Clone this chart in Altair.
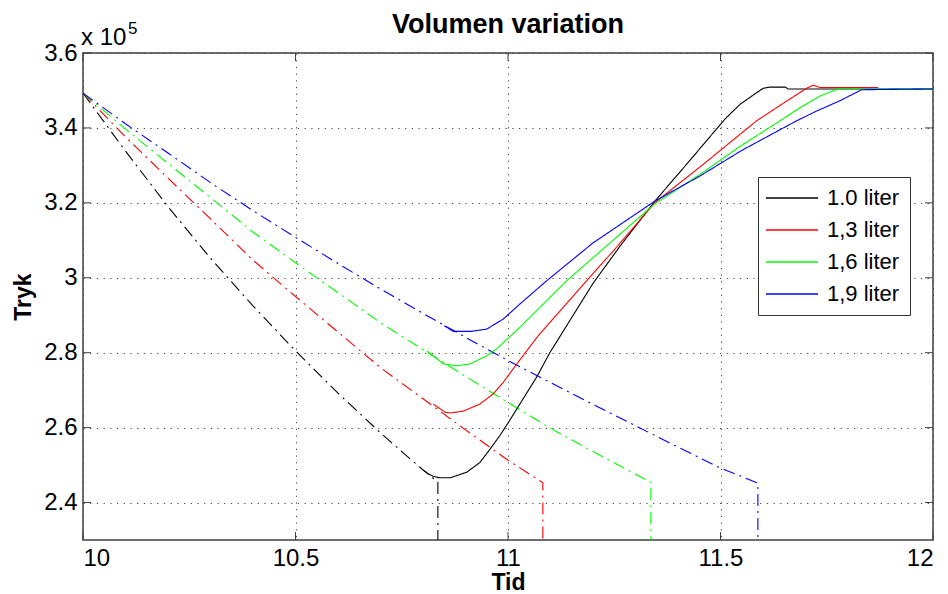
import altair as alt
import pandas as pd

# ---------------- data (pressure in units of 10^5) ----------------
series_names = ["1.0 liter", "1,3 liter", "1,6 liter", "1,9 liter"]
series_colors = ["#000000", "#ff0000", "#00ff00", "#0000ff"]

# dash-dot curves (pressure fall, then vertical drop)
dd_t_10 = [10.0, 10.1, 10.2, 10.3, 10.4, 10.5, 10.6, 10.7, 10.754, 10.8, 10.835, 10.835]
dd_p_10 = [3.493, 3.338, 3.190, 3.052, 2.925, 2.805, 2.692, 2.586, 2.532, 2.487, 2.455, 2.25]

dd_t_13 = [10.0, 10.1, 10.2, 10.3, 10.4, 10.5, 10.6, 10.7, 10.8, 10.9, 11.0, 11.082, 11.082]
dd_p_13 = [3.493, 3.376, 3.266, 3.157, 3.047, 2.950, 2.855, 2.760, 2.677, 2.594, 2.513, 2.453, 2.25]

dd_t_16 = [10.0, 10.1, 10.2, 10.3, 10.4, 10.5, 10.6, 10.7, 10.8, 10.9, 11.0, 11.1, 11.2, 11.336, 11.336]
dd_p_16 = [3.493, 3.397, 3.305, 3.214, 3.122, 3.040, 2.960, 2.880, 2.808, 2.737, 2.667, 2.598, 2.536, 2.454, 2.25]

dd_t_19 = [10.0, 10.1, 10.2, 10.3, 10.4, 10.5, 10.6, 10.7, 10.8, 10.9, 11.0, 11.1, 11.2, 11.3, 11.4, 11.5, 11.588, 11.588]
dd_p_19 = [3.493, 3.411, 3.333, 3.254, 3.179, 3.108, 3.038, 2.970, 2.905, 2.841, 2.779, 2.720, 2.662, 2.605, 2.548, 2.492, 2.452, 2.25]

# solid curves (pressure recovery)
s_t_10 = [10.800, 10.812, 10.824, 10.840, 10.864, 10.903, 10.934, 10.958, 10.981, 11.001, 11.067, 11.099, 11.2, 11.264,
          11.346, 11.43, 11.51, 11.546, 11.585, 11.601, 11.616, 11.652, 11.659, 12.0]
s_p_10 = [2.487, 2.477, 2.470, 2.466, 2.466, 2.481, 2.507, 2.543, 2.579, 2.614, 2.734, 2.801, 2.985, 3.085,
          3.205, 3.316, 3.423, 3.463, 3.494, 3.506, 3.509, 3.509, 3.504, 3.504]

s_t_13 = [10.824, 10.852, 10.864, 10.895, 10.934, 10.965, 10.989, 11.009, 11.044, 11.071, 11.185, 11.248,
          11.346, 11.452, 11.585, 11.656, 11.703, 11.718, 11.734, 11.871]
s_p_13 = [2.663, 2.641, 2.639, 2.644, 2.663, 2.690, 2.721, 2.752, 2.805, 2.845, 2.992, 3.072,
          3.201, 3.296, 3.419, 3.472, 3.506, 3.514, 3.508, 3.508]

s_t_16 = [10.809, 10.848, 10.879, 10.911, 10.95, 10.973, 11.02, 11.138, 11.232, 11.346, 11.452, 11.545,
          11.64, 11.687, 11.734, 11.776, 12.0]
s_p_16 = [2.805, 2.770, 2.765, 2.770, 2.792, 2.810, 2.859, 2.992, 3.085, 3.198, 3.276, 3.350,
          3.419, 3.454, 3.485, 3.504, 3.504]

s_t_19 = [10.850, 10.871, 10.914, 10.95, 10.989, 11.028, 11.091, 11.2, 11.346, 11.452, 11.55, 11.679,
          11.726, 11.78, 11.832, 12.0]
s_p_19 = [2.872, 2.857, 2.857, 2.863, 2.890, 2.930, 2.992, 3.093, 3.205, 3.272, 3.340, 3.419,
          3.445, 3.472, 3.502, 3.504]

x_ticks = [10, 10.5, 11, 11.5, 12]
y_ticks = [2.4, 2.6, 2.8, 3.0, 3.2, 3.4, 3.6]

# ---------------- tables ----------------
def build(ts, ps, style):
    rows = []
    for name, t, p in zip(series_names, ts, ps):
        for i, (a, b) in enumerate(zip(t, p)):
            rows.append({"t": a, "p": b, "series": name, "style": style,
                         "key": name + style, "i": i})
    return rows

lines_df = pd.DataFrame(
    build([dd_t_10, dd_t_13, dd_t_16, dd_t_19], [dd_p_10, dd_p_13, dd_p_16, dd_p_19], "dashdot")
    + build([s_t_10, s_t_13, s_t_16, s_t_19], [s_p_10, s_p_13, s_p_16, s_p_19], "solid")
)

W, H = 850, 487
FONT = "Liberation Sans"
BOX = "#404040"

x_scale = alt.Scale(domain=[10, 12], nice=False, zero=False)
y_scale = alt.Scale(domain=[2.3, 3.6], nice=False, zero=False)
c_scale = alt.Scale(domain=series_names, range=series_colors)

x_axis = alt.Axis(values=x_ticks, format=".1~f", grid=True, ticks=False, tickSize=0,
                  domain=False, labelPadding=6, titlePadding=1)
y_axis = alt.Axis(values=y_ticks, format=".1~f", grid=True, ticks=False, tickSize=0,
                  domain=False, labelPadding=6, titlePadding=8)

def X():
    return alt.X("t:Q", scale=x_scale, title="Tid", axis=x_axis)

def Y():
    return alt.Y("p:Q", scale=y_scale, title="Tryk", axis=y_axis)

lines = alt.Chart(lines_df).mark_line(strokeWidth=1.1, clip=True).encode(
    x=X(), y=Y(),
    color=alt.Color("series:N", scale=c_scale,
                    legend=alt.Legend(title=None, orient="none", legendX=675, legendY=124,
                                      symbolType="M-2.6,0H2.6", symbolSize=400, symbolStrokeWidth=1.5,
                                      labelFontSize=22, labelFont=FONT, labelColor="black",
                                      strokeColor="#333333", fillColor="white", padding=10,
                                      rowPadding=10, labelOffset=24, symbolOffset=13)),
    strokeDash=alt.StrokeDash("style:N", scale=alt.Scale(domain=["solid", "dashdot"],
                                                         range=[[1, 0], [12, 5, 2, 5]]),
                              legend=None),
    detail="key:N",
    order="i:Q",
)

xt = pd.DataFrame({"t": x_ticks})
yt = pd.DataFrame({"p": y_ticks})
tick_style = dict(color=BOX, strokeWidth=1)
ticks_bottom = alt.Chart(xt).mark_rule(**tick_style).encode(x=X(), y=alt.value(H), y2=alt.value(H - 8))
ticks_top = alt.Chart(xt).mark_rule(**tick_style).encode(x=X(), y=alt.value(0), y2=alt.value(8))
ticks_left = alt.Chart(yt).mark_rule(**tick_style).encode(y=Y(), x=alt.value(0), x2=alt.value(8))
ticks_right = alt.Chart(yt).mark_rule(**tick_style).encode(y=Y(), x=alt.value(W), x2=alt.value(W - 8))

title_txt = alt.Chart(pd.DataFrame({"s": ["Volumen variation"]})).mark_text(
    font=FONT, fontSize=27, fontWeight="bold", align="center", baseline="alphabetic", color="black"
).encode(text="s:N", x=alt.value(W / 2), y=alt.value(-20))
exp_base = alt.Chart(pd.DataFrame({"s": ["x 10"]})).mark_text(
    font=FONT, fontSize=24, align="left", baseline="alphabetic", color="black"
).encode(text="s:N", x=alt.value(-2), y=alt.value(-8))
exp_pow = alt.Chart(pd.DataFrame({"s": ["5"]})).mark_text(
    font=FONT, fontSize=17, align="left", baseline="alphabetic", color="black"
).encode(text="s:N", x=alt.value(45), y=alt.value(-19))

chart = alt.layer(
    lines, ticks_bottom, ticks_top, ticks_left, ticks_right, title_txt, exp_base, exp_pow
).properties(
    width=W, height=H,
    autosize="none",
    padding={"left": 83, "top": 53, "right": 15, "bottom": 54},
).configure_view(
    stroke=BOX, strokeWidth=1.5
).configure_axis(
    labelFont=FONT, labelFontSize=24, labelColor="black",
    titleFont=FONT, titleFontSize=23, titleFontWeight="bold", titleColor="black",
    gridColor="#444444", gridDash=[1.2, 5.5], gridWidth=1, gridOpacity=1,
)

chart.save("out.html", embed_options={"renderer": "svg", "actions": False})
